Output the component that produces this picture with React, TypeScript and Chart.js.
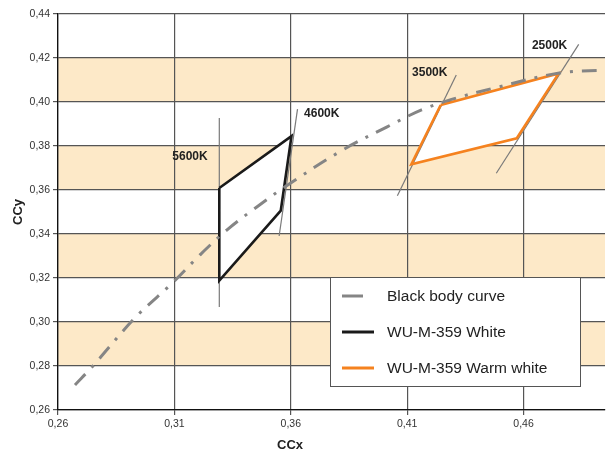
import React, { useEffect, useRef } from "react";
import { Chart, registerables } from "chart.js";

Chart.register(...registerables);

const xTicks = [0.26, 0.31, 0.36, 0.41, 0.46];
const yTicks = [0.26, 0.28, 0.3, 0.32, 0.34, 0.36, 0.38, 0.4, 0.42, 0.44];
const bandLow = [0.4, 0.36, 0.32, 0.28];
const bandHigh = [0.42, 0.38, 0.34, 0.3];

const blackBodyX = [0.2673, 0.275, 0.293, 0.3094, 0.321, 0.3325, 0.3454, 0.3587, 0.3823, 0.4012, 0.4162, 0.4312, 0.4476, 0.4754, 0.495];
const blackBodyY = [0.2714, 0.28, 0.3018, 0.318, 0.3305, 0.3418, 0.3523, 0.3623, 0.3782, 0.3886, 0.3964, 0.4018, 0.4064, 0.4132, 0.4145];

const whiteX = [0.3293, 0.3603, 0.3557, 0.3293, 0.3293];
const whiteY = [0.3609, 0.3845, 0.3506, 0.3188, 0.3609];

const warmX = [0.4244, 0.4751, 0.4571, 0.4118, 0.4244];
const warmY = [0.3986, 0.413, 0.3835, 0.3717, 0.3986];

const cctNames = ["5600K", "4600K", "3500K", "2500K"];
const cctLineX = [[0.3293, 0.3293], [0.3629, 0.355], [0.4311, 0.4058], [0.4837, 0.4483]];
const cctLineY = [[0.3927, 0.3068], [0.3968, 0.3391], [0.4123, 0.3574], [0.4262, 0.3676]];
const cctLabelX = [0.3167, 0.3733, 0.4197, 0.4712];
const cctLabelY = [0.375, 0.3945, 0.4132, 0.4256];

const legendLabels = ["Black body curve", "WU-M-359 White", "WU-M-359 Warm white"];
const legendColors = ["#858585", "#1a1a1a", "#f5821f"];

const FONT = "Arial, 'Liberation Sans', Helvetica, sans-serif";

const pts = (xs: number[], ys: number[]) => xs.map((x, i) => ({ x, y: ys[i] }));
const fmt = (v: any) => Number(v).toFixed(2).replace(".", ",");

const bandsPlugin = {
  id: "bands",
  beforeDraw(chart: any) {
    const { ctx, chartArea, scales } = chart;
    ctx.save();
    ctx.fillStyle = "#fde9c8";
    bandLow.forEach((lo, i) => {
      const y1 = scales.y.getPixelForValue(bandHigh[i]);
      const y2 = scales.y.getPixelForValue(lo);
      ctx.fillRect(chartArea.left, y1, chartArea.right - chartArea.left, y2 - y1);
    });
    ctx.restore();
  },
};

const overlayPlugin = {
  id: "overlay",
  afterDraw(chart: any) {
    const { ctx, scales } = chart;
    ctx.save();
    ctx.fillStyle = "#222";
    ctx.font = `bold 12px ${FONT}`;
    ctx.textAlign = "center";
    ctx.textBaseline = "middle";
    cctNames.forEach((n, i) => {
      ctx.fillText(n, scales.x.getPixelForValue(cctLabelX[i]), scales.y.getPixelForValue(cctLabelY[i]));
    });
    ctx.font = `bold 13px ${FONT}`;
    ctx.fillStyle = "#222";
    ctx.fillText("CCx", 290, 445);
    ctx.save();
    ctx.translate(18, 212);
    ctx.rotate(-Math.PI / 2);
    ctx.fillText("CCy", 0, 0);
    ctx.restore();
    const bx = 330.5, by = 277.5, bw = 250, bh = 109;
    ctx.fillStyle = "#fff";
    ctx.fillRect(bx, by, bw, bh);
    ctx.strokeStyle = "#555";
    ctx.lineWidth = 1;
    ctx.strokeRect(bx, by, bw, bh);
    legendLabels.forEach((l, i) => {
      const y = 296 + i * 36;
      ctx.strokeStyle = legendColors[i];
      ctx.lineWidth = 3;
      ctx.beginPath();
      ctx.moveTo(342, y);
      ctx.lineTo(i === 0 ? 363 : 374, y);
      ctx.stroke();
      ctx.fillStyle = "#222";
      ctx.font = `15.5px ${FONT}`;
      ctx.textAlign = "left";
      ctx.fillText(l, 387, y + 1);
    });
    ctx.restore();
  },
};

export default function App() {
  const ref = useRef<HTMLCanvasElement | null>(null);
  useEffect(() => {
    if (!ref.current) return;
    const thin = cctLineX.map((xs, i) => ({
      data: pts(xs, cctLineY[i]),
      showLine: true,
      borderColor: "#7a7a7a",
      borderWidth: 1.2,
      pointRadius: 0,
      order: 6,
    }));
    const chart = new Chart(ref.current, {
      type: "scatter",
      data: {
        datasets: [
          {
            data: pts(whiteX, whiteY),
            showLine: true,
            borderWidth: 0,
            borderColor: "rgba(0,0,0,0)",
            backgroundColor: "#ffffff",
            fill: "shape",
            pointRadius: 0,
            order: 10,
          },
          {
            data: pts(warmX, warmY),
            showLine: true,
            borderWidth: 0,
            borderColor: "rgba(0,0,0,0)",
            backgroundColor: "#ffffff",
            fill: "shape",
            pointRadius: 0,
            order: 10,
          },
          ...thin,
          {
            data: pts(whiteX, whiteY),
            showLine: true,
            borderColor: "#1a1a1a",
            borderWidth: 2.6,
            borderJoinStyle: "miter",
            pointRadius: 0,
            fill: false,
            order: 4,
          },
          {
            data: pts(warmX, warmY),
            showLine: true,
            borderColor: "#f5821f",
            borderWidth: 2.6,
            borderJoinStyle: "miter",
            pointRadius: 0,
            fill: false,
            order: 4,
          },
          {
            data: pts(blackBodyX, blackBodyY),
            showLine: true,
            borderColor: "#858585",
            borderWidth: 3,
            borderDash: [15, 9, 3, 9],
            borderCapStyle: "butt",
            tension: 0.35,
            pointRadius: 0,
            fill: false,
            order: 1,
          },
        ] as any,
      },
      options: {
        animation: false,
        responsive: false,
        devicePixelRatio: 1,
        layout: { padding: { left: 0, right: 1, top: 14, bottom: 0 } },
        plugins: { legend: { display: false }, tooltip: { enabled: false } },
        scales: {
          x: {
            type: "linear",
            min: 0.26,
            max: 0.495,
            afterBuildTicks: (s: any) => {
              s.ticks = xTicks.map((v) => ({ value: v }));
            },
            afterFit: (s: any) => {
              s.height = 45;
            },
            ticks: { callback: fmt, font: { family: FONT, size: 10.5 }, color: "#333", padding: 3, maxRotation: 0 },
            grid: { color: "#555", lineWidth: 1.2, tickLength: 5, drawTicks: true },
            border: { color: "#111", width: 1.3 },
          },
          y: {
            type: "linear",
            min: 0.26,
            max: 0.44,
            afterBuildTicks: (s: any) => {
              s.ticks = yTicks.map((v) => ({ value: v }));
            },
            afterFit: (s: any) => {
              s.width = 58;
            },
            ticks: { callback: fmt, font: { family: FONT, size: 10.5 }, color: "#333", padding: 3 },
            grid: { color: "#555", lineWidth: 1.2, tickLength: 5, drawTicks: true },
            border: { color: "#111", width: 1.3 },
          },
        },
      } as any,
      plugins: [bandsPlugin, overlayPlugin],
    });
    return () => chart.destroy();
  }, []);
  return (
    <div style={{ position: "absolute", left: 0, top: 0, width: 606, height: 455 }}>
      <canvas ref={ref} width={606} height={455} style={{ width: 606, height: 455, display: "block" }} />
    </div>
  );
}
